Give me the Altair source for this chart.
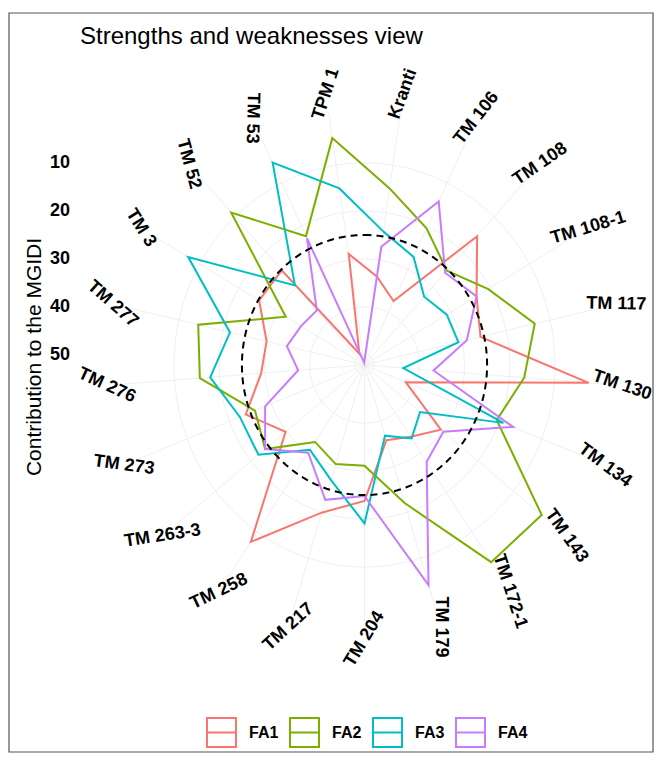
import json
import altair as alt
import pandas as pd

# ---------------- data ----------------
genotypes = ["Kranti", "TM 106", "TM 108", "TM 108-1", "TM 117", "TM 130", "TM 134",
             "TM 143", "TM 172-1", "TM 179", "TM 204", "TM 217", "TM 258", "TM 263-3",
             "TM 273", "TM 276", "TM 277", "TM 3", "TM 52", "TM 53", "TPM 1"]
factors = ["FA1", "FA2", "FA3", "FA4"]
fa1 = [33.5, 37.3, 15.5, 23.5, 25.8, 2.4, 42.3, 30.5, 34.0, 35.7, 23.8,
       19.9, 7.5, 29.8, 23.9, 29.2, 29.9, 25.2, 25.2, 49.5, 28.7]
fa2 = [14.9, 20.5, 25.3, 20.5, 13.5, 16.7, 20.7, 2.0, 2.4, 22.0, 31.1,
       30.5, 32.7, 24.0, 26.1, 15.6, 14.4, 32.0, 8.8, 22.3, 4.3]
fa3 = [24.0, 27.1, 32.7, 31.1, 30.8, 43.5, 19.1, 36.4, 33.6, 36.7, 19.1,
       27.0, 30.7, 22.1, 22.5, 17.9, 21.6, 7.1, 29.5, 5.3, 14.9]
fa4 = [27.2, 14.3, 25.9, 23.5, 28.9, 36.8, 16.8, 29.8, 27.7, 4.1, 24.8,
       22.7, 30.0, 24.0, 28.5, 37.4, 34.5, 35.9, 36.6, 22.8, 51.6]
radial_ticks = [10, 20, 30, 40, 50]
colors = ["#F8766D", "#7CAE00", "#00BFC4", "#C77CFF"]
title_text = "Strengths and weaknesses view"
axis_title = "Contribution to the MGIDI"

# ---------------- geometry ----------------
N = len(genotypes)
R_MAX = 52.1          # value sitting at the centre (reversed radial scale)
R_LABEL = 57.1        # radial distance of the genotype labels
R_SPOKE = 53.5
EQUAL = 100 / len(factors)

W, H = 565, 610
XHALF = W / 2 / 4.524
YHALF = H / 2 / 4.8

rows = []
for f, vals in zip(factors, [fa1, fa2, fa3, fa4]):
    for i, (g, v) in enumerate(zip(genotypes, vals)):
        rows.append({"genotype": g, "idx": i, "factor": f, "value": v})
df = pd.DataFrame(rows)
lab_df = pd.DataFrame({"genotype": genotypes, "idx": list(range(N))})
tick_df = pd.DataFrame({"tick": radial_ticks})

xs = alt.Scale(domain=[-XHALF, XHALF], nice=False, zero=False)
ys = alt.Scale(domain=[-YHALF, YHALF], nice=False, zero=False)
theta_expr = f"(datum.idx + 0.5) * 2 * PI / {N}"

X = lambda f: alt.X(f, type="quantitative", scale=xs, axis=None)
Y = lambda f: alt.Y(f, type="quantitative", scale=ys, axis=None)

frame = alt.Chart(alt.Data(values=[{}])).mark_rect(
    filled=False, stroke="#555555", strokeWidth=1.2
).encode(x=alt.value(-73), x2=alt.value(571), y=alt.value(-47), y2=alt.value(692))

rings = alt.Chart(alt.sequence(0, 360, 3, as_="deg")).transform_calculate(
    ring=json.dumps(radial_ticks)
).transform_flatten(["ring"]).transform_calculate(
    px=f"({R_MAX} - datum.ring) * sin(datum.deg * PI / 180)",
    py=f"({R_MAX} - datum.ring) * cos(datum.deg * PI / 180)",
).mark_line(interpolate="linear-closed", color="#EBEBEB", strokeWidth=0.8).encode(
    x=X("px"), y=Y("py"), detail="ring:N", order="deg:Q"
)

spokes = alt.Chart(lab_df).transform_calculate(th=theta_expr).transform_calculate(
    x0="0", y0="0",
    x1=f"{R_SPOKE} * sin(datum.th)", y1=f"{R_SPOKE} * cos(datum.th)",
).mark_rule(color="#EBEBEB", strokeWidth=0.8).encode(
    x=X("x0"), y=Y("y0"), x2="x1:Q", y2="y1:Q"
)

lines = alt.Chart(df).transform_calculate(
    th=theta_expr, rr=f"{R_MAX} - datum.value"
).transform_calculate(
    px="datum.rr * sin(datum.th)", py="datum.rr * cos(datum.th)"
).mark_line(interpolate="linear-closed", strokeWidth=2).encode(
    x=X("px"),
    y=Y("py"),
    color=alt.Color("factor:N", scale=alt.Scale(domain=factors, range=colors),
                    legend=alt.Legend(orient="none", legendX=124, legendY=657,
                                      direction="horizontal", title=None,
                                      symbolType="M-1,-1H1V1H-1Z M-1,0H1", symbolSize=841,
                                      symbolStrokeWidth=2, symbolFillColor="transparent",
                                      labelFontSize=16, labelFontWeight="bold", labelColor="black",
                                      labelOffset=12, columnPadding=7, padding=0)),
    order=alt.Order("idx:Q"),
)

dash = alt.Chart(alt.sequence(0, 360, 2, as_="deg")).transform_calculate(
    px=f"({R_MAX} - {EQUAL}) * sin(datum.deg * PI / 180)",
    py=f"({R_MAX} - {EQUAL}) * cos(datum.deg * PI / 180)",
).mark_line(interpolate="linear-closed", color="black", strokeWidth=2, strokeDash=[7, 5]).encode(
    x=X("px"), y=Y("py"), order="deg:Q"
)

labels = alt.Chart(lab_df).transform_calculate(
    th=theta_expr, deg=f"(datum.idx + 0.5) * 360 / {N}"
).transform_calculate(
    px=f"{R_LABEL} * sin(datum.th)", py=f"{R_LABEL} * cos(datum.th)",
    rot="datum.deg < 175 ? 1.037 * datum.deg - 78.9 : 0.974 * datum.deg - 234.3",
).transform_calculate(
    rot2="datum.rot > 105 ? datum.rot - 180 : datum.rot"
).transform_calculate(
    rot3="(datum.rot2 + 360) % 360"
).mark_text(fontSize=18, fontWeight="bold", color="black", align="center", baseline="middle").encode(
    x=X("px"), y=Y("py"), text="genotype:N", angle=alt.Angle("rot3:Q", scale=None)
)

# radial axis (reversed): tick labels on the left, at the radius of each value
tick_labels = alt.Chart(tick_df).transform_calculate(
    py=f"{R_MAX} - datum.tick"
).mark_text(fontSize=18, fontWeight="bold", color="black", align="right", baseline="middle").encode(
    x=alt.value(-12), y=Y("py"), text="tick:Q"
)

axis_title_mark = alt.Chart(alt.Data(values=[{"t": axis_title}])).mark_text(
    fontSize=21, color="black", align="center", baseline="middle", angle=270
).encode(x=alt.value(-47), y=alt.value(297), text="t:N")

title_mark = alt.Chart(alt.Data(values=[{"t": title_text}])).mark_text(
    fontSize=24, color="black", align="left", baseline="alphabetic"
).encode(x=alt.value(-2), y=alt.value(-16), text="t:N")

chart = alt.layer(frame, rings, spokes, lines, dash, labels, tick_labels,
                  axis_title_mark, title_mark).properties(
    width=W, height=H,
    padding={"left": 74, "top": 52, "right": 7, "bottom": 83},
    autosize=alt.AutoSizeParams(type="none"),
).configure(font="Liberation Sans").configure_view(stroke="transparent")

chart.save("out.html", embed_options={"renderer": "svg", "actions": False})
